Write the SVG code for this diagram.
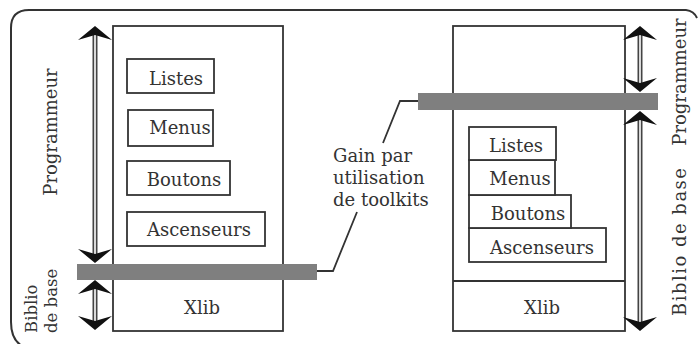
<svg xmlns="http://www.w3.org/2000/svg" width="698" height="344" viewBox="0 0 698 344">
<style>
  text { font-family: "DejaVu Serif", "Liberation Serif", serif; font-size: 18px; fill: #333; }
  .c { text-anchor: middle; }
  .small { font-size: 16.5px; }
  .box { fill: #fff; stroke: #333; stroke-width: 1.8; }
  .frame { fill: none; stroke: #333; stroke-width: 2; }
  .bar { fill: #7f7f7f; }
  .shaft { stroke: #444; stroke-width: 5; fill: none; }
  .shaftin { stroke: #fff; stroke-width: 1.6; fill: none; }
  .arr { stroke: none; fill: none; marker-start: url(#ah); marker-end: url(#ah); }
  .lead { stroke: #333; stroke-width: 1.8; fill: none; }
</style>
<defs>
  <marker id="ah" markerUnits="userSpaceOnUse" viewBox="-14 -18 16 36" refX="0" refY="0" markerWidth="16" markerHeight="36" orient="auto-start-reverse">
    <path d="M0,0 L-14,-17 L-9,0 L-14,17 Z" fill="#111"/>
  </marker>
</defs>

<path class="frame" d="M24,347 Q11,341 11,322 L11,28 Q11,10 29,10 L686,10 Q694,11 697,18"/>

<g id="left-stack">
  <rect class="box" x="113" y="26" width="170" height="305"/>
  <g id="l-listes"><rect class="box" x="127" y="59" width="87" height="34"/><text class="c" x="176" y="85">Listes</text></g>
  <g id="l-menus"><rect class="box" x="128" y="110" width="85" height="36"/><text class="c" x="180" y="134">Menus</text></g>
  <g id="l-boutons"><rect class="box" x="127" y="161" width="103" height="34"/><text class="c" x="184" y="186">Boutons</text></g>
  <g id="l-ascenseurs"><rect class="box" x="127" y="212" width="138" height="34"/><text class="c" x="199" y="236">Ascenseurs</text></g>
  <g id="l-xlib"><text class="c" x="202" y="314">Xlib</text></g>
</g>

<g id="right-stack">
  <rect class="box" x="453" y="26" width="172" height="305"/>
  <line x1="453" y1="281" x2="625" y2="281" stroke="#333" stroke-width="1.8"/>
  <g id="r-ascenseurs"><rect class="box" x="469" y="228" width="137" height="34"/><text class="c" x="542" y="254">Ascenseurs</text></g>
  <g id="r-boutons"><rect class="box" x="469" y="195" width="102" height="33"/><text class="c" x="528" y="220">Boutons</text></g>
  <g id="r-menus"><rect class="box" x="469" y="160" width="86" height="35"/><text class="c" x="520" y="185">Menus</text></g>
  <g id="r-listes"><rect class="box" x="469" y="127" width="87" height="33"/><text class="c" x="516" y="152">Listes</text></g>
  <g id="r-xlib"><text class="c" x="542" y="314">Xlib</text></g>
</g>

<g id="connectors">
  <line class="shaft" x1="95" y1="30" x2="95" y2="259"/>
  <line class="shaftin" x1="95" y1="30" x2="95" y2="259"/>
  <line class="arr" x1="95" y1="26" x2="95" y2="263"/>
  <line class="shaft" x1="95" y1="284" x2="95" y2="326"/>
  <line class="shaftin" x1="95" y1="284" x2="95" y2="326"/>
  <line class="arr" x1="95" y1="280" x2="95" y2="330"/>
  <line class="shaft" x1="640" y1="30" x2="640" y2="88"/>
  <line class="shaftin" x1="640" y1="30" x2="640" y2="88"/>
  <line class="arr" x1="640" y1="26" x2="640" y2="92"/>
  <line class="shaft" x1="640" y1="115" x2="640" y2="327"/>
  <line class="shaftin" x1="640" y1="115" x2="640" y2="327"/>
  <line class="arr" x1="640" y1="111" x2="640" y2="331"/>
  <polyline class="lead" points="317,271 333,271 357,212"/>
  <polyline class="lead" points="383,143 400,101 418,101"/>
</g>

<g id="bars">
  <rect class="bar" x="77" y="264" width="240" height="16"/>
  <rect class="bar" x="418" y="93" width="240" height="17"/>
</g>

<g id="gain-label">
  <text x="333" y="162">Gain par</text>
  <text x="333" y="184">utilisation</text>
  <text x="333" y="206">de toolkits</text>
</g>

<g id="side-labels">
  <text class="c" transform="translate(57,132) rotate(-90)">Programmeur</text>
  <text class="small" transform="translate(37,333) rotate(-90)">Biblio</text>
  <text class="small" transform="translate(57,333) rotate(-90)">de base</text>
  <text class="c" transform="translate(686,82) rotate(-90)">Programmeur</text>
  <text class="c" transform="translate(686,242) rotate(-90)" textLength="148" lengthAdjust="spacing">Biblio de base</text>
</g>
</svg>
